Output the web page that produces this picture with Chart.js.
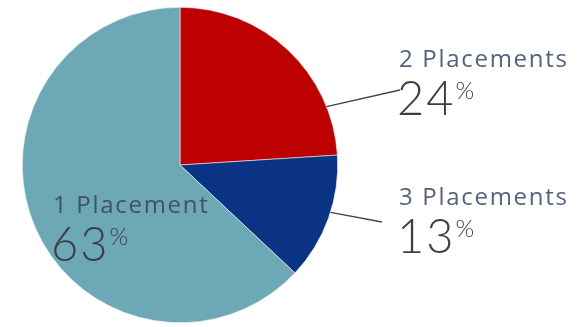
<!DOCTYPE html>
<html>
<head>
<meta charset="utf-8">
<script src="https://cdn.jsdelivr.net/npm/chart.js@4"></script>
<style>
  html, body { margin: 0; padding: 0; background: #fff; }
  #wrap { width: 580px; height: 327px; position: relative; }
</style>
</head>
<body>
<div id="wrap"><canvas id="pie"></canvas></div>
<script>
// share of each placement count, clockwise from 12 o'clock
const categories = ['2 Placements', '3 Placements', '1 Placement'];
const shares     = [24, 13, 63];
const colors     = ['#bd0000', '#0b3384', '#6ca8b5'];

// where each caption sits; lineAt = point along the slice's arc where the leader starts (0..1)
const captions = [
  { x: 399, y: 67,  lineAt: 0.79, lineTo: [400, 90] },
  { x: 399, y: 205, lineAt: 0.45, lineTo: [382, 222] },
  { x: 53,  y: 213, lineAt: null },
];

const LABEL_FONT = '"Open Sans", Lato, sans-serif';
const NUM_FONT = 'Lato, "Open Sans", sans-serif';

const captionPlugin = {
  id: 'captions',
  afterDraw(chart) {
    const ctx = chart.ctx;
    const arcs = chart.getDatasetMeta(0).data;
    ctx.save();
    arcs.forEach((arc, i) => {
      const c = captions[i];
      // leader line from the slice edge to the caption
      if (c.lineAt !== null) {
        const a = arc.startAngle + (arc.endAngle - arc.startAngle) * c.lineAt;
        const sx = arc.x + Math.cos(a) * arc.outerRadius;
        const sy = arc.y + Math.sin(a) * arc.outerRadius;
        ctx.beginPath();
        ctx.moveTo(sx, sy);
        ctx.lineTo(c.lineTo[0], c.lineTo[1]);
        ctx.strokeStyle = '#444';
        ctx.lineWidth = 1.3;
        ctx.stroke();
      }
      ctx.textAlign = 'left';
      ctx.textBaseline = 'alphabetic';
      ctx.fillStyle = i === 2 ? '#44525e' : '#55627e';
      ctx.font = '400 24px ' + LABEL_FONT;
      ctx.letterSpacing = '1.7px';
      ctx.fillText(categories[i], c.x, c.y);

      const num = String(shares[i]);
      ctx.fillStyle = '#3b3f48';
      ctx.font = '300 47px ' + NUM_FONT;
      ctx.letterSpacing = '2px';
      ctx.fillText(num, c.x - 2, c.y + 48);
      const w = ctx.measureText(num).width;
      ctx.letterSpacing = '0px';
      ctx.font = '300 24px ' + NUM_FONT;
      ctx.fillText('%', c.x + w - 2, c.y + 32);
    });
    ctx.restore();
  }
};

new Chart(document.getElementById('pie'), {
  type: 'pie',
  data: {
    labels: categories,
    datasets: [{
      data: shares,
      backgroundColor: colors,
      borderColor: '#f2f2f2',
      borderWidth: 0.6,
    }],
  },
  options: {
    responsive: true,
    maintainAspectRatio: false,
    animation: false,
    layout: { padding: { left: 22, right: 242, top: 7, bottom: 4 } },
    plugins: {
      legend: { display: false },
      tooltip: { enabled: false },
    },
  },
  plugins: [captionPlugin],
});
</script>
</body>
</html>
